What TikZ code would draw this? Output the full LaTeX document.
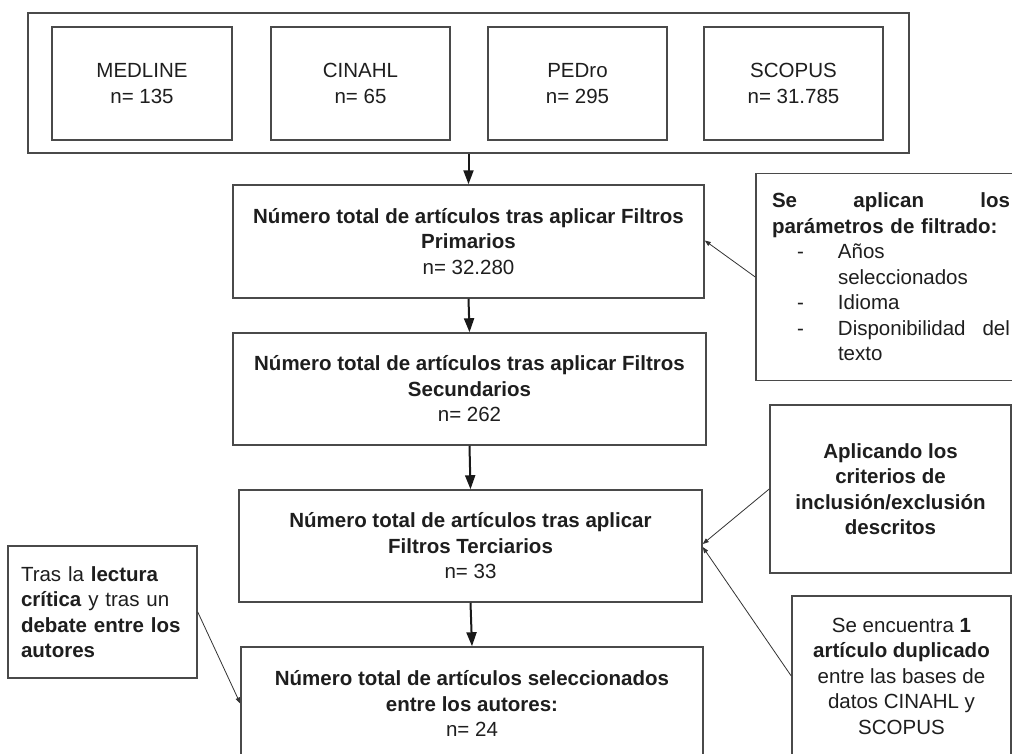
\documentclass[tikz,border=0pt]{standalone}
\usepackage{fontspec}
\setmainfont{Liberation Sans}
\usetikzlibrary{arrows.meta}
\definecolor{ln}{HTML}{4A4A4A}
\definecolor{tx}{HTML}{1E1E1E}
\begin{document}
\begin{tikzpicture}[x=1pt,y=-1pt,
  box/.style={draw=ln, line width=1.5pt, inner sep=0pt, align=center, text=tx,
              font=\fontsize{20.5}{25.5}\selectfont},
  mainarrow/.style={-{Triangle[length=14pt,width=10pt]}, line width=2pt, draw=black!90},
  thinarrow/.style={-{Triangle[length=6pt,width=4.5pt]}, line width=0.8pt, draw=black!80}]
\useasboundingbox (0,0) rectangle (1012,753);
\clip (0,0) rectangle (1012,753);
\fill[white] (0,0) rectangle (1012,753);

% databases
\node[box, minimum width=881pt, minimum height=140pt] (db) at (468.5,83) {};
\node[box, minimum width=180pt, minimum height=113pt] (med) at (142,83.5) {MEDLINE\\n= 135};
\node[box, minimum width=179pt, minimum height=113pt] (cin) at (360.5,83.5) {CINAHL\\n= 65};
\node[box, minimum width=179pt, minimum height=113pt] (ped) at (577.5,83.5) {PEDro\\n= 295};
\node[box, minimum width=179pt, minimum height=113pt] (sco) at (793.5,83.5) {SCOPUS\\n= 31.785};

% main flow
\node[box, minimum width=471pt, minimum height=113pt] (p1) at (468.5,241.5)
  {\textbf{Número total de artículos tras aplicar Filtros}\\\textbf{Primarios}\\n= 32.280};
\node[box, minimum width=473pt, minimum height=112pt] (p2) at (469.5,389)
  {\textbf{Número total de artículos tras aplicar Filtros}\\\textbf{Secundarios}\\n= 262};
\node[box, minimum width=463pt, minimum height=112pt] (p3) at (470.5,546)
  {\textbf{Número total de artículos tras aplicar}\\\textbf{Filtros Terciarios}\\n= 33};
\node[box, minimum width=462pt, minimum height=113pt] (p4) at (472,703.5)
  {\textbf{Número total de artículos seleccionados}\\\textbf{entre los autores:}\\n= 24};

% side notes
\node[box, align=left, text width=238pt, minimum width=270pt, minimum height=207pt] (r1) at (891,277)
  {\makebox[238pt][l]{\bfseries Se\hfill aplican\hfill los}\\
   \textbf{parámetros de filtrado:}\\
   \makebox[66pt][l]{\hspace{25pt}-}Años\\
   \hspace*{66pt}seleccionados\\
   \makebox[66pt][l]{\hspace{25pt}-}Idioma\\
   \makebox[66pt][l]{\hspace{25pt}-}\makebox[172pt][l]{Disponibilidad\hfill del}\\
   \hspace*{66pt}texto};
\node[box, minimum width=241pt, minimum height=168pt] (r2) at (890.5,489)
  {\textbf{Aplicando los}\\\textbf{criterios de}\\\textbf{inclusión/exclusión}\\\textbf{descritos}};
\node[box, minimum width=219pt, minimum height=160pt] (r3) at (901.5,676)
  {Se encuentra \textbf{1}\\\textbf{artículo duplicado}\\entre las bases de\\datos CINAHL y\\SCOPUS};
\node[box, align=left, text width=163pt, minimum width=189pt, minimum height=132pt] (l) at (102.5,612)
  {Tras la \textbf{lectura}\\\textbf{crítica} y tras un\\\textbf{debate entre los}\\\textbf{autores}};

% connectors
\draw[mainarrow] (db.south) -- (p1.north);
\draw[mainarrow] (p1.south) -- (p2.north);
\draw[mainarrow] (p2.south) -- (p3.north);
\draw[mainarrow] (p3.south) -- (p4.north);
\draw[thinarrow] (r1.west) -- ([yshift=1pt]p1.east);
\draw[thinarrow] (r2.west) -- ([yshift=2pt]p3.east);
\draw[thinarrow] (r3.west) -- ([yshift=-1pt]p3.east);
\draw[thinarrow] (l.east) -- (p4.west);
\end{tikzpicture}
\end{document}
